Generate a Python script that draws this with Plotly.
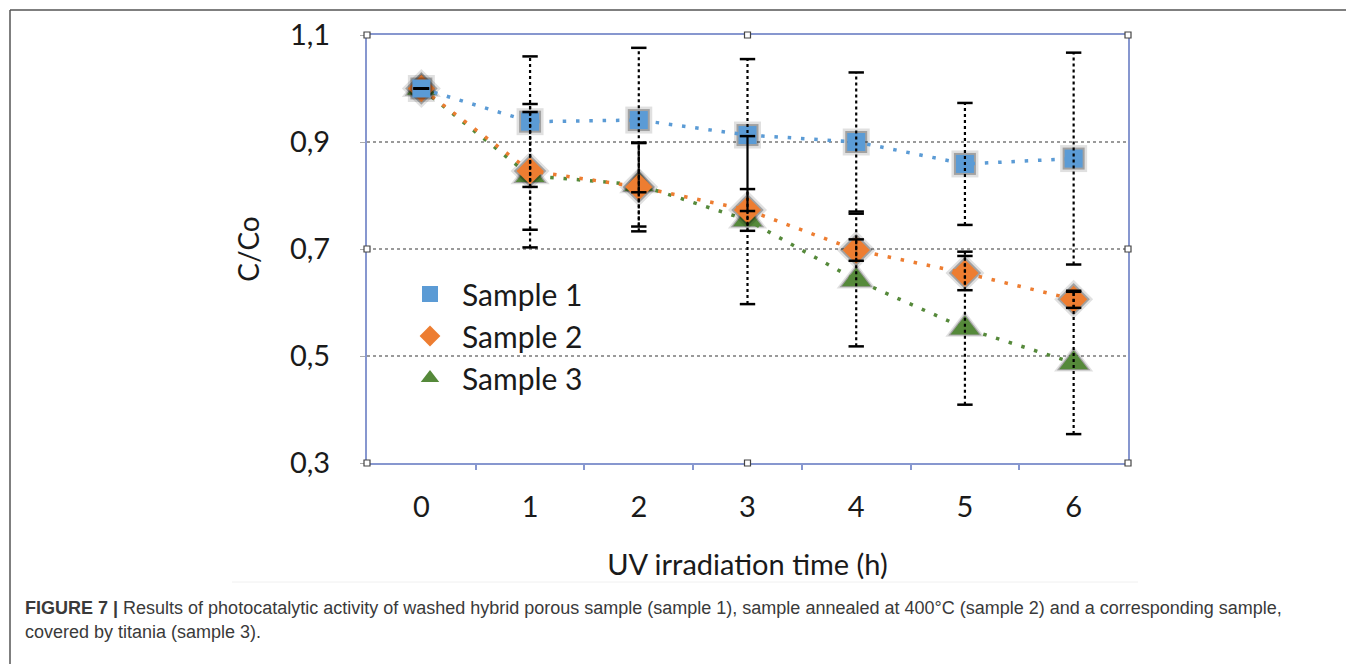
import plotly.graph_objects as go

# ---------------- data ----------------
times = [0, 1, 2, 3, 4, 5, 6]
tick_labels = ["0", "1", "2", "3", "4", "5", "6"]

sample1 = [1.000, 0.938, 0.941, 0.913, 0.900, 0.859, 0.869]
sample1_err = [0.000, 0.122, 0.135, 0.142, 0.130, 0.114, 0.198]

sample2 = [1.000, 0.846, 0.816, 0.773, 0.698, 0.655, 0.606]
sample2_err = [0.000, 0.110, 0.083, 0.039, 0.020, 0.032, 0.016]

sample3 = [1.000, 0.837, 0.820, 0.754, 0.642, 0.552, 0.487]
sample3_err = [0.000, 0.134, 0.078, 0.157, 0.124, 0.143, 0.133]

y_ticks = [0.3, 0.5, 0.7, 0.9, 1.1]

series_names = ["Sample 1", "Sample 2", "Sample 3"]

# ---------------- style ----------------
colors = {"Sample 1": "#5B9BD5", "Sample 2": "#ED7D31", "Sample 3": "#55893A"}
symbols = {"Sample 1": "square", "Sample 2": "diamond", "Sample 3": "triangle-up"}
sizes = {"Sample 1": 18, "Sample 2": 21, "Sample 3": 25}
legend_sizes = {"Sample 1": 20, "Sample 2": 21, "Sample 3": 18}
FONT = "Lato"
TXT = "#1a1a1a"

data = {
    "Sample 1": (sample1, sample1_err),
    "Sample 2": (sample2, sample2_err),
    "Sample 3": (sample3, sample3_err),
}

fig = go.Figure()

draw_order = ["Sample 3", "Sample 2", "Sample 1"]

# shadows + series
for name in draw_order:
    vals, errs = data[name]
    fig.add_trace(go.Scatter(
        x=times, y=vals, mode="markers", showlegend=False, hoverinfo="skip",
        marker=dict(symbol=symbols[name], size=sizes[name] + 9,
                    color="rgba(0,0,0,0.12)", line=dict(width=0)),
    ))
    fig.add_trace(go.Scatter(
        x=times, y=vals, mode="markers", showlegend=False, hoverinfo="skip",
        marker=dict(symbol=symbols[name], size=sizes[name] + 4,
                    color="rgba(0,0,0,0.28)", line=dict(width=0)),
    ))
    fig.add_trace(go.Scatter(
        x=times, y=vals, mode="lines+markers", showlegend=False, name=name,
        line=dict(color=colors[name], width=3.5, dash="3.5px,9.8px"),
        marker=dict(symbol=symbols[name], size=sizes[name], color=colors[name],
                    line=dict(width=0)),
    ))

# error bars (dotted stems with solid caps)
for name in draw_order:
    vals, errs = data[name]
    ex, ey, cx, cy = [], [], [], []
    for t, v, e in zip(times, vals, errs):
        ex += [t, t, None]
        ey += [v - e, v + e, None]
        cx += [t, t]
        cy += [v - e, v + e]
    fig.add_trace(go.Scatter(
        x=ex, y=ey, mode="lines", showlegend=False, hoverinfo="skip",
        line=dict(color="black", width=2.2, dash="dot"),
    ))
    fig.add_trace(go.Scatter(
        x=cx, y=cy, mode="markers", showlegend=False, hoverinfo="skip",
        marker=dict(symbol="line-ew", size=11, line=dict(color="black", width=2.5)),
    ))

# legend entries
for name in series_names:
    fig.add_trace(go.Scatter(
        x=[None], y=[None], mode="markers", name=name,
        marker=dict(symbol=symbols[name], size=legend_sizes[name], color=colors[name],
                    line=dict(width=0)),
    ))

L, R, T, B = 367, 218, 35, 201
W, H = 1346, 664
pw, ph = W - L - R, H - T - B


def px_x(p):
    return (p - L) / pw


def px_y(p):
    return (H - B - p) / ph


shapes = []
# selection handles on plot frame
for (hx, hy) in [(0, 1), (0.5, 1), (1, 1), (0, 0.5), (1, 0.5), (0, 0), (0.5, 0), (1, 0)]:
    shapes.append(dict(type="rect", xref="x domain", yref="y domain",
                       xsizemode="pixel", ysizemode="pixel",
                       xanchor=hx, yanchor=hy, x0=-3, x1=3, y0=-3, y1=3,
                       line=dict(color="#444", width=1.2), fillcolor="white",
                       layer="above"))
# outer figure frame (top + left edge)
shapes.append(dict(type="line", xref="paper", yref="paper",
                   x0=px_x(10), x1=px_x(1400), y0=px_y(10), y1=px_y(10),
                   line=dict(color="#555", width=1.5)))
shapes.append(dict(type="line", xref="paper", yref="paper",
                   x0=px_x(10), x1=px_x(10), y0=px_y(10), y1=px_y(700),
                   line=dict(color="#555", width=1.5)))
# faint image boundary line
shapes.append(dict(type="line", xref="paper", yref="paper",
                   x0=px_x(232), x1=px_x(1138), y0=px_y(582), y1=px_y(582),
                   line=dict(color="#f0f0f0", width=1)))

fig.update_layout(
    width=W, height=H,
    margin=dict(l=L, r=R, t=T, b=B, autoexpand=False),
    paper_bgcolor="white", plot_bgcolor="white",
    separators=",.",
    font=dict(family=FONT, color=TXT),
    showlegend=True,
    legend=dict(x=px_x(398), y=px_y(268), xanchor="left", yanchor="top",
                bgcolor="rgba(0,0,0,0)", font=dict(size=30, family=FONT, color=TXT),
                itemwidth=54, tracegroupgap=0),
    shapes=shapes,
    annotations=[
        dict(xref="paper", yref="paper", x=px_x(23), y=px_y(608),
             xanchor="left", yanchor="middle", showarrow=False, align="left",
             text="<b>FIGURE 7 |</b> Results of photocatalytic activity of washed hybrid porous sample (sample 1), sample annealed at 400°C (sample 2) and a corresponding sample,",
             font=dict(family="Liberation Sans", size=18, color="#3a3a3a")),
        dict(xref="paper", yref="paper", x=px_x(23), y=px_y(632),
             xanchor="left", yanchor="middle", showarrow=False, align="left",
             text="covered by titania (sample 3).",
             font=dict(family="Liberation Sans", size=18, color="#3a3a3a")),
    ],
)

fig.update_xaxes(
    range=[-0.5, 6.5], tickvals=times, ticktext=tick_labels, ticks="",
    tickfont=dict(size=29, family=FONT, color=TXT), ticklabelstandoff=17,
    showgrid=False, zeroline=False,
    showline=True, linecolor="#8797CF", linewidth=2, mirror=True,
    minor=dict(tickvals=[0.5, 1.5, 2.5, 3.5, 4.5, 5.5], ticks="outside",
               ticklen=5, tickcolor="#8797CF", tickwidth=1.5, showgrid=False),
    title=dict(text="UV irradiation time (h)", font=dict(size=29, family=FONT, color=TXT),
               standoff=33),
)
fig.update_yaxes(
    range=[0.3, 1.1], tickvals=y_ticks, tickformat=".1f",
    tickfont=dict(size=29, family=FONT, color=TXT),
    ticks="outside", ticklen=5, tickcolor="#aaa", ticklabelstandoff=24,
    showgrid=True, gridcolor="#9a9a9a", griddash="dot", gridwidth=1.5,
    zeroline=False,
    showline=True, linecolor="#8797CF", linewidth=2, mirror=True,
    title=dict(text="C/Co", font=dict(size=28, family=FONT, color=TXT), standoff=22),
)

fig.write_html("out.html")
